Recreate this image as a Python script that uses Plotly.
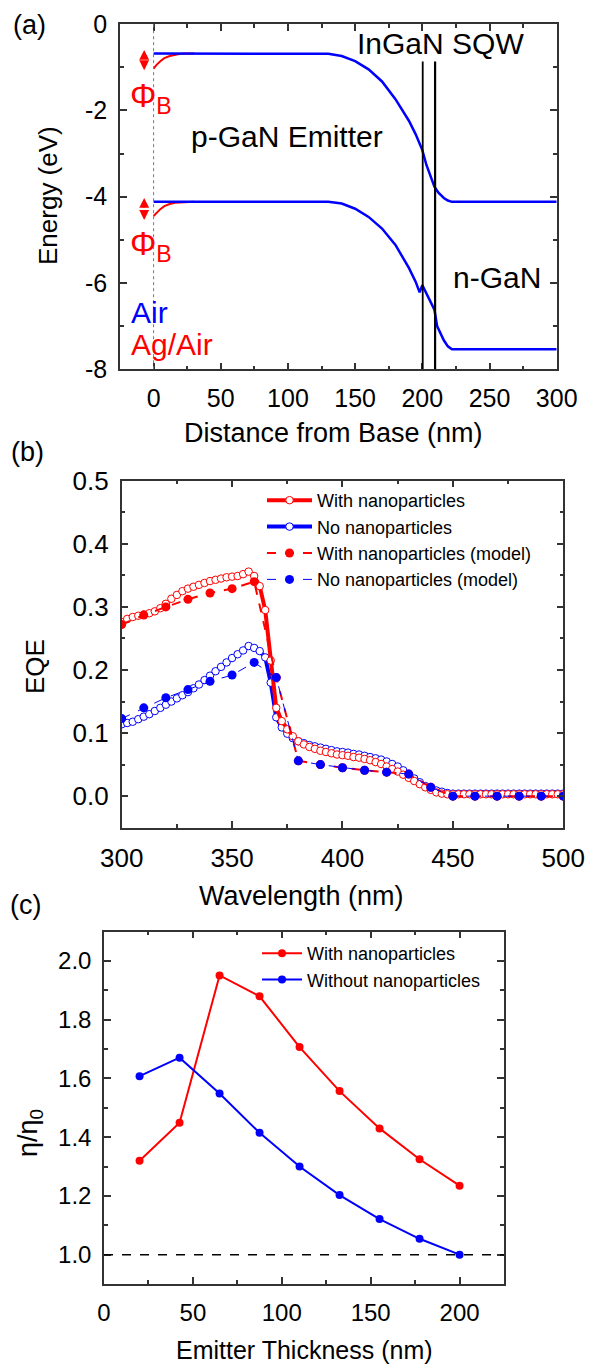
import plotly.graph_objects as go

W, H = 589, 1366
FONT = "Arial, Liberation Sans, Helvetica, sans-serif"

# ---------------- Panel (a) data : band diagram ----------------
cb_x = [0, 10, 20, 30, 40, 60, 80, 100, 120, 130, 140, 150, 160, 170, 180, 190, 195, 200,
        203, 206, 209, 212, 216, 219, 222, 240, 260, 280, 300]
cb_e = [-0.68, -0.68, -0.68, -0.68, -0.68, -0.68, -0.68, -0.68, -0.68, -0.69, -0.74, -0.86,
        -1.05, -1.33, -1.74, -2.24, -2.55, -2.92, -3.26, -3.50, -3.77, -3.91, -4.03, -4.09,
        -4.12, -4.12, -4.12, -4.12, -4.12]
vb_x = [0, 10, 20, 30, 40, 60, 80, 100, 120, 130, 140, 150, 160, 170, 180, 190, 195, 198,
        200, 203, 206, 209, 211, 216, 219, 222, 240, 260, 280, 300]
vb_e = [-4.12, -4.12, -4.12, -4.12, -4.12, -4.12, -4.12, -4.12, -4.12, -4.12, -4.16, -4.28,
        -4.47, -4.74, -5.12, -5.65, -5.97, -6.22, -6.05, -6.24, -6.42, -6.62, -7.00, -7.33,
        -7.47, -7.54, -7.54, -7.54, -7.54, -7.54]
ag_x = [0, 2, 5, 8, 12, 16, 20, 25, 30]
ag_cb = [-1.03, -0.95, -0.86, -0.79, -0.74, -0.71, -0.69, -0.68, -0.68]
ag_vb = [-4.45, -4.38, -4.29, -4.22, -4.17, -4.14, -4.13, -4.12, -4.12]
energy_ticks = [-8, -6, -4, -2, 0]
energy_labels = ["-8", "-6", "-4", "-2", "0"]

# ---------------- Panel (b) data : EQE ----------------
wl = [300, 302.5, 305, 307.5, 310, 312.5, 315, 317.5, 320, 322.5, 325, 327.5, 330, 332.5,
      335, 337.5, 340, 342.5, 345, 347.5, 350, 352.5, 355, 357.5, 360, 362.5, 365, 367.5,
      370, 372.5, 375, 377.5, 380, 382.5, 385, 387.5, 390, 392.5, 395, 397.5, 400, 402.5,
      405, 407.5, 410, 412.5, 415, 417.5, 420, 422.5, 425, 427.5, 430, 432.5, 435, 437.5,
      440, 442.5, 445, 447.5, 450, 452.5, 455, 457.5, 460, 462.5, 465, 467.5, 470, 472.5,
      475, 477.5, 480, 482.5, 485, 487.5, 490, 492.5, 495, 497.5, 500]
eqe_np = [0.276, 0.281, 0.284, 0.286, 0.288, 0.290, 0.293, 0.298, 0.305, 0.313, 0.319,
          0.325, 0.329, 0.332, 0.335, 0.338, 0.341, 0.343, 0.345, 0.347, 0.348, 0.349,
          0.352, 0.356, 0.349, 0.333, 0.295, 0.215, 0.140, 0.119, 0.106, 0.095, 0.087,
          0.082, 0.078, 0.075, 0.072, 0.070, 0.068, 0.066, 0.065, 0.064, 0.062, 0.061,
          0.059, 0.057, 0.054, 0.051, 0.047, 0.043, 0.039, 0.034, 0.029, 0.024, 0.019,
          0.014, 0.010, 0.006, 0.004, 0.003, 0.003, 0.003, 0.003, 0.003, 0.003, 0.003,
          0.003, 0.003, 0.003, 0.003, 0.003, 0.003, 0.003, 0.003, 0.003, 0.003, 0.003,
          0.003, 0.003, 0.003, 0.003]
eqe_no = [0.114, 0.116, 0.118, 0.122, 0.126, 0.130, 0.135, 0.140, 0.145, 0.150, 0.155,
          0.160, 0.165, 0.171, 0.177, 0.184, 0.191, 0.198, 0.205, 0.212, 0.219, 0.225,
          0.231, 0.238, 0.235, 0.230, 0.220, 0.180, 0.125, 0.109, 0.099, 0.092, 0.087,
          0.084, 0.081, 0.079, 0.077, 0.075, 0.073, 0.071, 0.070, 0.069, 0.067, 0.066,
          0.064, 0.062, 0.060, 0.058, 0.055, 0.051, 0.047, 0.041, 0.035, 0.028, 0.022,
          0.016, 0.012, 0.009, 0.007, 0.005, 0.004, 0.004, 0.004, 0.004, 0.004, 0.004,
          0.004, 0.004, 0.004, 0.004, 0.004, 0.004, 0.004, 0.004, 0.004, 0.004, 0.004,
          0.004, 0.004, 0.004, 0.004]
wl_model = [300, 310, 320, 330, 340, 350, 360, 370, 380, 390, 400, 410, 420, 430, 440, 450,
            460, 470, 480, 490, 500]
model_np = [0.272, 0.287, 0.300, 0.312, 0.322, 0.329, 0.340, 0.188, 0.056, 0.050, 0.045,
            0.041, 0.038, 0.035, 0.014, 0.0, 0.0, 0.0, 0.0, 0.0, 0.0]
model_no = [0.123, 0.140, 0.156, 0.169, 0.182, 0.192, 0.212, 0.188, 0.056, 0.050, 0.045,
            0.041, 0.038, 0.035, 0.014, 0.0, 0.0, 0.0, 0.0, 0.0, 0.0]

# ---------------- Panel (c) data : enhancement ----------------
thick = [20, 42.5, 65, 87.5, 110, 132.5, 155, 177.5, 200]
ratio_np = [1.320, 1.449, 1.951, 1.880, 1.707, 1.557, 1.430, 1.325, 1.235]
ratio_no = [1.608, 1.671, 1.549, 1.415, 1.300, 1.203, 1.121, 1.054, 1.000]

RED = "#ff0000"
BLUE = "#0000ff"
AX = "#333333"

fig = go.Figure()

# panel (a)
for ys in (ag_cb, ag_vb):
    fig.add_trace(go.Scatter(x=ag_x, y=ys, mode="lines", line=dict(color=RED, width=2),
                             showlegend=False, xaxis="x", yaxis="y"))
fig.add_trace(go.Scatter(x=cb_x, y=cb_e, mode="lines", line=dict(color=BLUE, width=2.5),
                         showlegend=False, xaxis="x", yaxis="y"))
fig.add_trace(go.Scatter(x=vb_x, y=vb_e, mode="lines", line=dict(color=BLUE, width=2.5),
                         showlegend=False, xaxis="x", yaxis="y"))

# panel (b)
fig.add_trace(go.Scatter(x=wl, y=eqe_no, mode="lines+markers", name="No nanoparticles",
                         line=dict(color=BLUE, width=4),
                         marker=dict(symbol="circle", size=7.5, color="white",
                                     line=dict(color=BLUE, width=1)),
                         legendrank=2, legend="legend", xaxis="x2", yaxis="y2"))
fig.add_trace(go.Scatter(x=wl, y=eqe_np, mode="lines+markers", name="With nanoparticles",
                         line=dict(color=RED, width=4),
                         marker=dict(symbol="circle", size=7.5, color="white",
                                     line=dict(color=RED, width=1)),
                         legendrank=1, legend="legend", xaxis="x2", yaxis="y2"))
fig.add_trace(go.Scatter(x=wl_model, y=model_np, mode="lines+markers",
                         name="With nanoparticles (model)",
                         line=dict(color=RED, width=2, dash="dash"),
                         marker=dict(symbol="circle", size=9, color=RED),
                         legendrank=3, legend="legend", xaxis="x2", yaxis="y2"))
fig.add_trace(go.Scatter(x=wl_model, y=model_no, mode="lines+markers",
                         name="No nanoparticles (model)",
                         line=dict(color=BLUE, width=1, dash="dash"),
                         marker=dict(symbol="circle", size=9, color=BLUE),
                         legendrank=4, legend="legend", xaxis="x2", yaxis="y2"))

# panel (c)
fig.add_trace(go.Scatter(x=thick, y=ratio_np, mode="lines+markers", name="With nanoparticles",
                         line=dict(color=RED, width=2), marker=dict(size=8, color=RED),
                         legend="legend2", xaxis="x3", yaxis="y3"))
fig.add_trace(go.Scatter(x=thick, y=ratio_no, mode="lines+markers",
                         name="Without nanoparticles",
                         line=dict(color=BLUE, width=2), marker=dict(size=8, color=BLUE),
                         legend="legend2", xaxis="x3", yaxis="y3"))


def px_x(p):
    return p / W


def px_y(p):
    return 1 - p / H


def axis(domain, rng, dtick, minor_dtick, size, anchor, fmt=None, tickvals=None,
         ticktext=None):
    d = dict(domain=domain, range=rng, anchor=anchor, showgrid=False, zeroline=False,
             automargin=False,
             showline=True, linecolor=AX, linewidth=1.5, mirror="ticks",
             ticks="inside", ticklen=7, tickwidth=1.5, tickcolor=AX,
             tickfont=dict(size=size, color="black", family=FONT),
             ticklabelstandoff=6,
             minor=dict(ticks="inside", ticklen=4, tickwidth=1.5, tickcolor=AX,
                        dtick=minor_dtick, showgrid=False))
    if tickvals is not None:
        d["tickmode"] = "array"
        d["tickvals"] = tickvals
        if ticktext is not None:
            d["ticktext"] = ticktext
    else:
        d["dtick"] = dtick
        d["tick0"] = 0
    if fmt:
        d["tickformat"] = fmt
    return d


fig.update_layout(
    width=W, height=H, margin=dict(l=0, r=0, t=0, b=0, autoexpand=False),
    paper_bgcolor="white", plot_bgcolor="white",
    font=dict(family=FONT, color="black"),
    xaxis=axis([px_x(120), px_x(556.7)], [-25, 300.01], 50, 25, 25, "y"),
    yaxis=axis([px_y(369.3), px_y(24)], [-8.002, 0.002], None, 1, 25, "x",
               tickvals=energy_ticks, ticktext=energy_labels),
    xaxis2=axis([px_x(121.7), px_x(563.3)], [300, 500.01], 50, 25, 26, "y2"),
    yaxis2=axis([px_y(827.7), px_y(480.7)], [-0.05, 0.5001], 0.1, 0.05, 26, "x2", ".1f"),
    xaxis3=axis([px_x(104), px_x(504)], [-0.01, 225], 50, 25, 24, "y3"),
    yaxis3=axis([px_y(1284), px_y(931.7)], [0.9, 2.1], None, 0.1, 24, "x3", ".1f",
                tickvals=[1.0, 1.2, 1.4, 1.6, 1.8, 2.0]),
    legend=dict(x=px_x(262), y=px_y(482), xanchor="left", yanchor="top",
                bgcolor="rgba(0,0,0,0)", font=dict(size=18, family=FONT),
                itemwidth=45, tracegroupgap=0),
    legend2=dict(x=px_x(257), y=px_y(935), xanchor="left", yanchor="top",
                 bgcolor="rgba(0,0,0,0)", font=dict(size=18, family=FONT),
                 itemwidth=40),
)

shapes = [
    dict(type="line", xref="x", yref="y", x0=0, x1=0, y0=-8, y1=0,
         line=dict(color="#777777", width=1, dash="dot")),
    dict(type="line", xref="x", yref="y", x0=200.3, x1=200.3, y0=-8, y1=-0.87,
         line=dict(color="black", width=1.8)),
    dict(type="line", xref="x", yref="y", x0=209.5, x1=209.5, y0=-8, y1=-0.87,
         line=dict(color="black", width=2.2)),
    dict(type="line", xref="x3", yref="y3", x0=0, x1=225, y0=1.0, y1=1.0,
         line=dict(color="black", width=1.5, dash="dash")),
]
fig.update_layout(shapes=shapes)

ann = []


def ptext(text, x, y, size, color="black", angle=0, xanchor="center", yanchor="middle"):
    ann.append(dict(text=text, x=px_x(x), y=px_y(y), xref="paper", yref="paper",
                    showarrow=False, font=dict(size=size, color=color, family=FONT),
                    textangle=angle, xanchor=xanchor, yanchor=yanchor))


# panel labels & axis titles
ptext("(a)", 29, 25, 27)
ptext("(b)", 27, 452, 27)
ptext("(c)", 25, 905, 27)
ptext("Energy (eV)", 48, 196, 26, angle=-90)
ptext("Distance from Base (nm)", 333, 433, 27)
ptext("EQE", 35, 667, 26, angle=-90)
ptext("Wavelength (nm)", 301, 896, 27)
ptext("η/η<sub>0</sub>", 30, 1133, 27, angle=-90)
ptext("Emitter Thickness (nm)", 304, 1350, 25)

# panel (a) annotations
ptext("InGaN SQW", 440, 44, 30)
ptext("p-GaN Emitter", 287, 137, 30)
ptext("n-GaN", 497, 278, 30)
ptext("Air", 129, 313, 30, color=BLUE, xanchor="left")
ptext("Ag/Air", 129, 344, 30, color=RED, xanchor="left")
ptext("Φ<sub>B</sub>", 128, 98, 33, color=RED, xanchor="left")
ptext("Φ<sub>B</sub>", 128, 246, 33, color=RED, xanchor="left")

# double-headed barrier arrows (two heads pointing outward from the middle)
for y_top, y_bot in ((-0.60, -1.07), (-4.03, -4.54)):
    y_mid = (y_top + y_bot) / 2
    for y_end in (y_top, y_bot):
        ann.append(dict(x=-7, y=y_end, ax=-7, ay=y_mid, xref="x", yref="y", axref="x",
                        ayref="y", text="", showarrow=True, arrowhead=2, arrowsize=1.1,
                        arrowwidth=1.8, arrowcolor=RED, standoff=0, startstandoff=0))

fig.update_layout(annotations=ann)

fig.write_html("out.html")
